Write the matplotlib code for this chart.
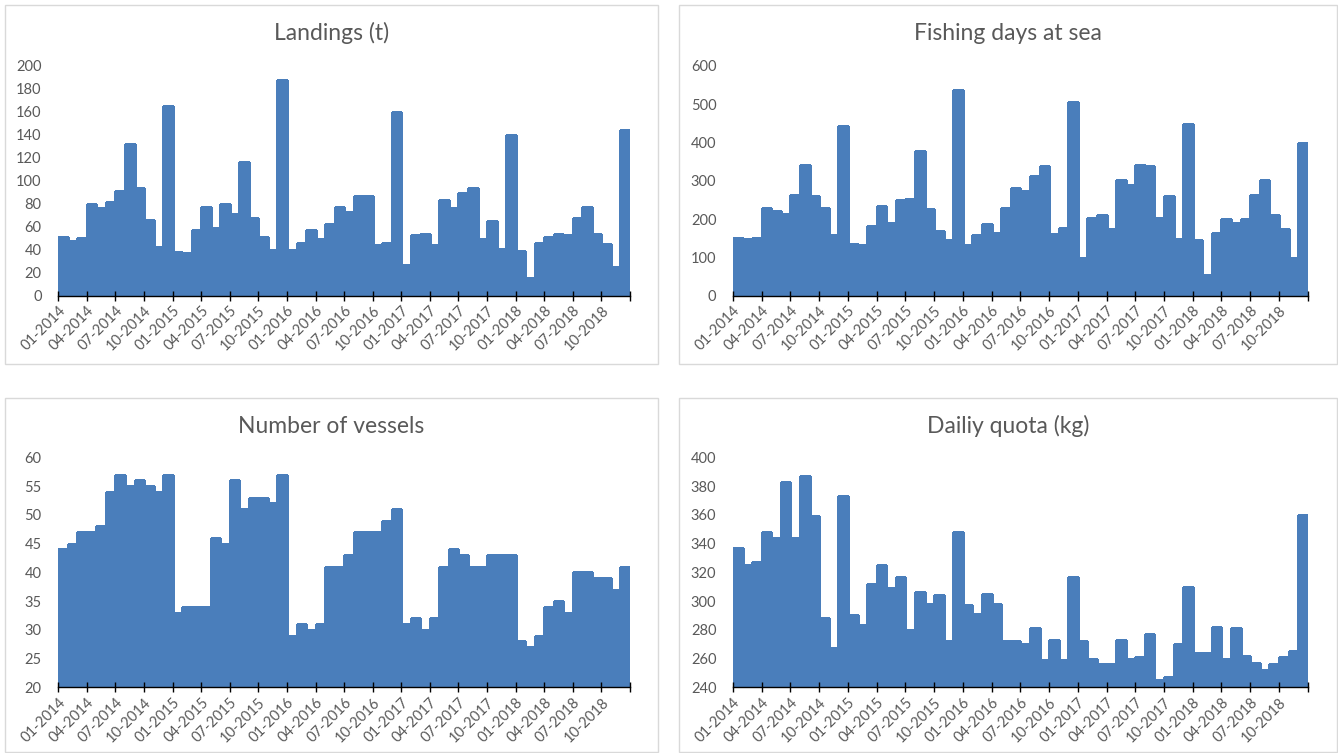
import matplotlib
matplotlib.use("Agg")
import matplotlib.pyplot as plt
from matplotlib.patches import Rectangle
import numpy as np

# Monthly series, 01-2014 .. 12-2018
months = [f"{m:02d}-{y}" for y in range(2014, 2019) for m in range(1, 13)]

landings = [51, 48, 50, 80, 76, 82, 91, 132, 94, 66, 42, 165,
            38, 37, 57, 77, 59, 80, 71, 116, 68, 51, 40, 188,
            40, 46, 57, 49, 62, 77, 73, 87, 87, 44, 46, 160,
            27, 53, 54, 44, 83, 76, 89, 94, 49, 65, 41, 140,
            39, 15, 46, 51, 54, 53, 68, 77, 54, 45, 25, 144]

fishing_days = [151, 148, 151, 230, 220, 214, 263, 341, 260, 230, 158, 442,
                136, 132, 181, 233, 191, 249, 252, 377, 226, 168, 145, 537,
                132, 158, 188, 165, 230, 282, 273, 312, 338, 161, 178, 505,
                99, 204, 211, 174, 302, 289, 341, 338, 204, 260, 148, 449,
                145, 54, 165, 200, 191, 200, 263, 302, 211, 174, 99, 400]

vessels = [44, 45, 47, 47, 48, 54, 57, 55, 56, 55, 54, 57,
           33, 34, 34, 34, 46, 45, 56, 51, 53, 53, 52, 57,
           29, 31, 30, 31, 41, 41, 43, 47, 47, 47, 49, 51,
           31, 32, 30, 32, 41, 44, 43, 41, 41, 43, 43, 43,
           28, 27, 29, 34, 35, 33, 40, 40, 39, 39, 37, 41]

daily_quota = [337, 325, 327, 348, 344, 383, 344, 387, 359, 288, 267, 373,
               290, 283, 312, 325, 309, 317, 280, 306, 298, 304, 272, 348,
               297, 291, 305, 298, 272, 272, 270, 281, 259, 273, 259, 317,
               272, 260, 256, 256, 273, 260, 261, 277, 245, 247, 270, 310,
               264, 264, 282, 260, 281, 262, 257, 252, 256, 261, 265, 360]

panels = [
    ("Landings (t)", landings, (0, 200), 20),
    ("Fishing days at sea", fishing_days, (0, 600), 100),
    ("Number of vessels", vessels, (20, 60), 5),
    ("Dailiy quota (kg)", daily_quota, (240, 400), 20),
]

BAR = "#4A7EBB"
TXT = "#595959"
FONT = ["Lato", "DejaVu Sans"]

W, H = 1338, 753
fig = plt.figure(figsize=(W / 100, H / 100), dpi=100)
fig.patch.set_facecolor("white")

# chart-area frames (pixel boxes: x0, y0_top, x1, y1_bottom)
frames = [(5, 5, 658, 364), (679, 5, 1337, 364),
          (5, 398, 658, 752), (679, 398, 1337, 752)]
# plot-area boxes
plot_boxes = [(58.3, 66.0, 630.0, 295.7), (733.0, 66.0, 1307.7, 295.7),
              (58.3, 457.3, 630.0, 687.3), (733.0, 457.3, 1307.7, 687.3)]

for (x0, y0, x1, y1) in frames:
    fig.patches.append(Rectangle((x0 / W, 1 - y1 / H), (x1 - x0) / W, (y1 - y0) / H,
                                 transform=fig.transFigure, fill=False,
                                 edgecolor="#d9d9d9", linewidth=1.0))

n = len(months)
x = np.arange(n)
tick_pos = np.arange(-0.5, n, 3)
tick_lbl = [months[int(p + 0.5)] if p + 0.5 < n else "" for p in tick_pos]

for (title, vals, ylim, step), (x0, y0, x1, y1), (fx0, fy0, fx1, fy1) in zip(panels, plot_boxes, frames):
    ax = fig.add_axes([x0 / W, 1 - y1 / H, (x1 - x0) / W, (y1 - y0) / H])
    ax.bar(x, vals, width=1.0, color=BAR, edgecolor=BAR, linewidth=1.0,
           antialiased=False, bottom=0)
    ax.set_xlim(-0.5, n - 0.5)
    ax.set_ylim(*ylim)
    ax.set_yticks(np.arange(ylim[0], ylim[1] + step / 2, step))
    for side in ("top", "right", "left"):
        ax.spines[side].set_visible(False)
    ax.spines["bottom"].set_color("black")
    ax.spines["bottom"].set_linewidth(1.0)
    ax.tick_params(axis="y", length=0, pad=12, labelsize=10.5, labelcolor=TXT)
    ax.set_xticks(tick_pos)
    ax.set_xticklabels(tick_lbl, rotation=45, ha="right", va="top",
                       rotation_mode="anchor", fontsize=10.5, color=TXT)
    ax.tick_params(axis="x", direction="inout", length=7, width=1.0, pad=2)
    for lbl in ax.get_xticklabels() + ax.get_yticklabels():
        lbl.set_family(FONT)
    ax.set_facecolor("none")
    cx = (fx0 + fx1) / 2
    fig.text(cx / W, 1 - (fy0 + 28) / H, title, ha="center", va="center",
             fontsize=16.5, color=TXT, family=FONT)

fig.savefig("out.png", dpi=100, facecolor="white")
